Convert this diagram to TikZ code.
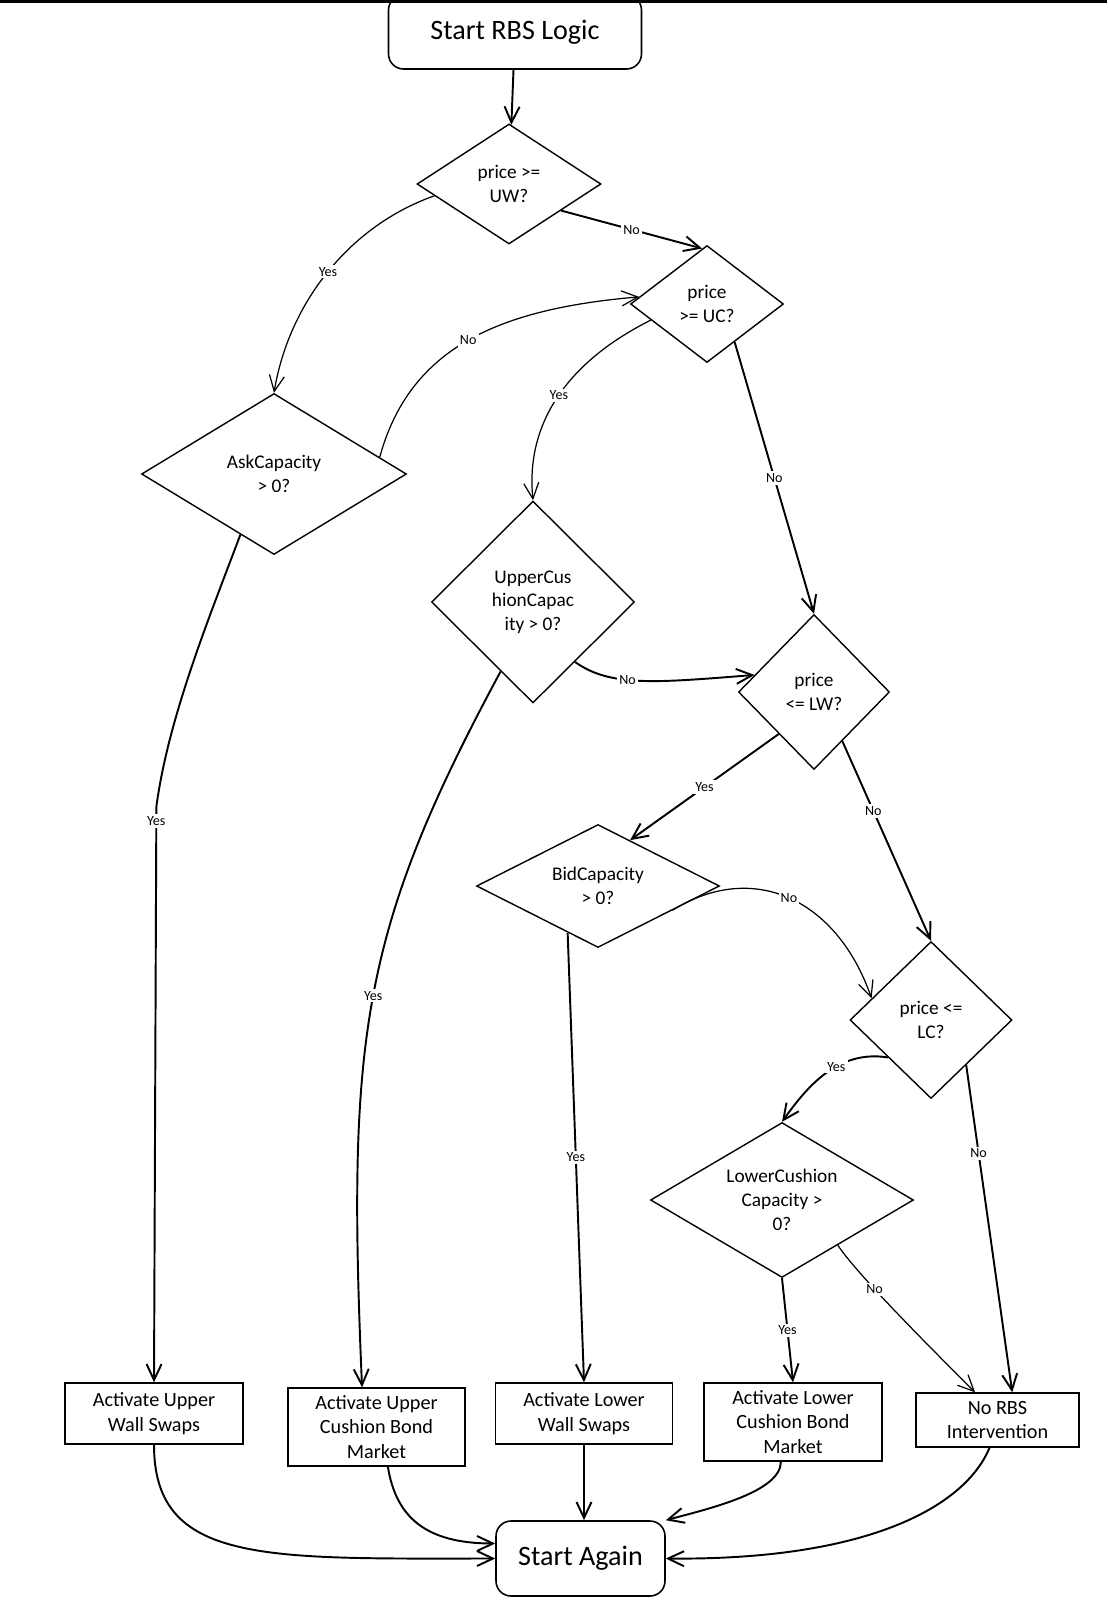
\documentclass[tikz,border=0pt]{standalone}
\usepackage{fontspec}
\setmainfont{Carlito}
\usetikzlibrary{arrows.meta,shapes.geometric}

\begin{document}
\begin{tikzpicture}[x=0.02cm, y=-0.02cm,
    decision/.style={diamond, draw, line width=0.8pt, align=center, inner sep=0pt, font=\fontsize{11}{13.5}\selectfont},
    action/.style={draw, line width=0.8pt, align=center, inner sep=0pt, font=\fontsize{11.5}{14}\selectfont},
    terminal/.style={draw, rounded corners=3mm, line width=0.9pt, align=center, font=\fontsize{16}{18}\selectfont},
    flow/.style={line width=1.1pt, -{Straight Barb[length=3.2mm,width=3mm]}},
    thinflow/.style={flow, line width=0.7pt},
    lbl/.style={fill=white, inner sep=1.2pt, font=\fontsize{8}{9}\selectfont}]
    \useasboundingbox (0,0) rectangle (1107,1600);
    \fill[black] (0,0) rectangle (1107,2.5);

    \node[terminal, minimum width=5.06cm, minimum height=1.48cm] (start) at (515,32) {Start RBS Logic};
    \node[decision, minimum width=3.68cm, minimum height=2.40cm, shape aspect=1.53] (uw) at (509,184) {price >=\\UW?};
    \node[decision, minimum width=3.06cm, minimum height=2.34cm, shape aspect=1.31] (uc) at (707,304) {price\\>= UC?};
    \node[decision, minimum width=5.30cm, minimum height=3.22cm, shape aspect=1.65] (ask) at (274,474) {AskCapacity\\> 0?};
    \node[decision, minimum width=4.06cm, minimum height=4.04cm, shape aspect=1] (ucc) at (533,602) {UpperCus\\hionCapac\\ity > 0?};
    \node[decision, minimum width=3.02cm, minimum height=3.10cm, shape aspect=0.97] (lw) at (814,692) {price\\<= LW?};
    \node[decision, minimum width=4.86cm, minimum height=2.46cm, shape aspect=1.98] (bid) at (598,886) {BidCapacity\\> 0?};
    \node[decision, minimum width=3.24cm, minimum height=3.14cm, shape aspect=1.03] (lc) at (931,1020) {price <=\\LC?};
    \node[decision, minimum width=5.26cm, minimum height=3.10cm, shape aspect=1.7] (lcc) at (782,1200) {LowerCushion\\Capacity >\\0?};

    \node[action, minimum width=3.56cm, minimum height=1.22cm] (uws) at (154,1413.5) {Activate Upper\\Wall Swaps};
    \node[action, minimum width=3.54cm, minimum height=1.56cm] (ucb) at (376.5,1427) {Activate Upper\\Cushion Bond\\Market};
    \node[action, minimum width=3.54cm, minimum height=1.22cm] (lws) at (584,1413.5) {Activate Lower\\Wall Swaps};
    \node[action, minimum width=3.56cm, minimum height=1.56cm] (lcb) at (793,1422) {Activate Lower\\Cushion Bond\\Market};
    \node[action, minimum width=3.26cm, minimum height=1.08cm] (none) at (997.5,1420) {No RBS\\Intervention};
    \node[terminal, minimum width=3.38cm, minimum height=1.5cm] (again) at (580.5,1558.5) {Start Again};

    \draw[flow] (start) -- (uw);
    \draw[thinflow] (uw.189) .. controls +(-85,30) and +(15,-90) .. (ask.north) node[lbl, pos=0.5] (l1) {Yes};
    \draw[flow] (uw.-27) -- (uc.95) node[lbl, pos=0.5] (l2) {No};
    \draw[thinflow] (uc.196) .. controls +(-80,40) and +(-8,-80) .. (ucc.north) node[lbl, pos=0.5] (l3) {Yes};
    \draw[thinflow] (ask.9) .. controls +(30,-110) and +(-140,12) .. (uc.174) node[lbl, pos=0.5] (l4) {No};
    \draw[flow] (uc.-54) -- (lw.north) node[lbl, pos=0.5] (l5) {No};
    \draw[flow] (ask.241) .. controls +(-30,80) and +(12,-90) .. ++(-84,272) -- (uws.north) node[lbl, pos=0.025] (l6) {Yes};
    \draw[flow] (ucc.245) .. controls +(-140,260) and +(-15,-350) .. (ucb.110) node[lbl, pos=0.5] (l7) {Yes};
    \draw[flow] (ucc.-55) .. controls +(35,25) and +(-100,8) .. (lw.164) node[lbl, pos=0.42] (l8) {No};
    \draw[flow] (lw.230) -- (bid.55) node[lbl, pos=0.5] (l9) {Yes};
    \draw[flow] (lw.-60) -- (lc.north) node[lbl, pos=0.35] (l10) {No};
    \draw[flow] (bid.237) -- (lws.north) node[lbl, pos=0.5] (l11) {Yes};
    \draw[thinflow] (bid.-18) .. controls +(80,-50) and +(-35,-100) .. (lc.160) node[lbl, pos=0.5] (l12) {No};
    \draw[flow] (lc.221) .. controls +(-50,-8) and +(25,-35) .. (lcc.north) node[lbl, pos=0.4] (l13) {Yes};
    \draw[flow] (lc.-52) -- (none.62) node[lbl, pos=0.27] (l14) {No};
    \draw[flow] (lcc.south) -- (lcb.north) node[lbl, pos=0.5] (l15) {Yes};
    \draw[thinflow] (lcc.-39) .. controls +(20,30) and +(-45,-45) .. (none.129) node[lbl, pos=0.35] (l16) {No};
    \draw[flow] (uws.south) .. controls +(0,120) and +(-230,0) .. (again.west);
    \draw[flow] (ucb.-74) .. controls +(8,50) and +(-70,0) .. (again.170);
    \draw[flow] (lws.south) -- (lws.south |- again.north);
    \draw[flow] (lcb.-107) .. controls +(0,30) and +(45,-12) .. (again.north east);
    \draw[flow] (none.-106) .. controls +(-25,60) and +(200,2) .. (again.east);
\end{tikzpicture}
\end{document}
